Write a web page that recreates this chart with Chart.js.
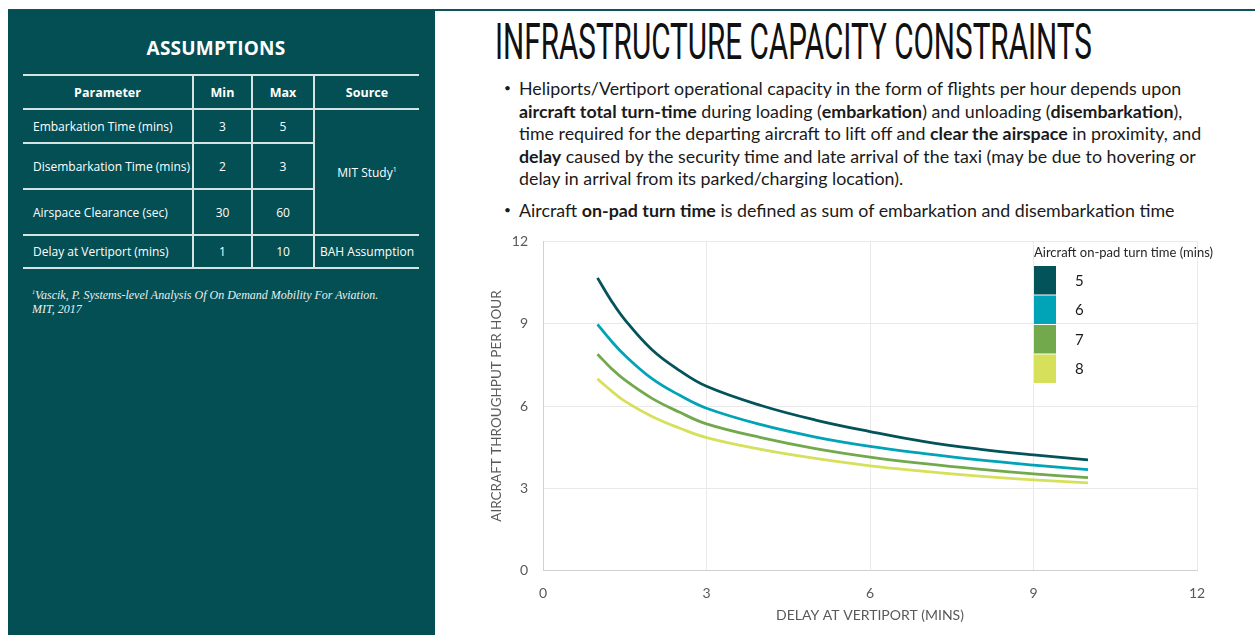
<!DOCTYPE html>
<html>
<head>
<meta charset="utf-8">
<script src="https://cdn.jsdelivr.net/npm/chart.js@4.4.1/dist/chart.umd.min.js"></script>
<style>
  html, body { margin: 0; padding: 0; background: #fff; }
  body { width: 1255px; height: 635px; position: relative; overflow: hidden; font-family: "Open Sans", sans-serif; }
  .topline { position: absolute; left: 8px; top: 9px; width: 1247px; height: 2px; background: #0b565b; }
  .panel { position: absolute; left: 8px; top: 10px; width: 427px; height: 625px; background: #034f54; color: #fff; }
  .panel h2 { position: absolute; left: 0; width: 416px; top: 25px; margin: 0; text-align: center; font-size: 19px; font-weight: 700; letter-spacing: 0.2px; }
  table { position: absolute; left: 15px; top: 64px; border-collapse: collapse; table-layout: fixed; font-size: 12px; }
  td, th { border-top: 2px solid #d6e3e3; border-bottom: 2px solid #d6e3e3; padding: 0; text-align: center; font-weight: 400; }
  th { font-weight: 700; font-size: 12.5px; }
  td + td, th + th, td.src { border-left: 2px solid #d6e3e3; }
  td.p { text-align: left; padding-left: 10px; white-space: nowrap; }
  sup { font-size: 7px; }
  .foot { position: absolute; left: 24px; top: 276px; font-family: "Liberation Serif", serif; font-style: italic; font-size: 12px; line-height: 13.5px; color: #e8f0f0; }
  .foot sup { font-size: 6px; }
  .title { position: absolute; left: 495px; top: 14px; font-family: Roboto, sans-serif; font-weight: 400; font-size: 50px; line-height: 56px; color: #111; white-space: nowrap; transform-origin: 0 0; }
  .bullets { position: absolute; left: 503px; top: 77px; font-family: Lato, sans-serif; font-size: 16px; line-height: 22.5px; color: #1a1a1a; white-space: nowrap; }
  .bullets div { position: relative; padding-left: 16px; }
  .bullets div::before { content: "•"; position: absolute; left: 1px; top: 0; font-size: 12px; }
  .bullets div + div { margin-top: 9.5px; }
  #wrap { position: absolute; left: 480px; top: 218px; width: 775px; height: 417px; }
</style>
</head>
<body>
<div class="topline"></div>
<div class="panel">
  <h2>ASSUMPTIONS</h2>
  <table>
    <colgroup><col style="width:170px"><col style="width:59px"><col style="width:62px"><col style="width:105px"></colgroup>
    <tr style="height:34px"><th>Parameter</th><th>Min</th><th>Max</th><th>Source</th></tr>
    <tr style="height:34px"><td class="p">Embarkation Time (mins)</td><td>3</td><td>5</td><td class="src" rowspan="3">MIT Study<sup>1</sup></td></tr>
    <tr style="height:46px"><td class="p">Disembarkation Time (mins)</td><td>2</td><td>3</td></tr>
    <tr style="height:46px"><td class="p">Airspace Clearance (sec)</td><td>30</td><td>60</td></tr>
    <tr style="height:33px"><td class="p">Delay at Vertiport (mins)</td><td>1</td><td>10</td><td>BAH Assumption</td></tr>
  </table>
  <div class="foot"><sup>1</sup>Vascik, P. Systems-level Analysis Of On Demand Mobility For Aviation.<br>MIT, 2017</div>
</div>

<div class="title" id="title">INFRASTRUCTURE CAPACITY CONSTRAINTS</div>

<div class="bullets" id="bullets">
  <div><span id="l1">Heliports/Vertiport operational capacity in the form of flights per hour depends upon</span><br>
  <b>aircraft total turn-time</b> during loading (<b>embarkation</b>) and unloading (<b>disembarkation</b>),<br>
  time required for the departing aircraft to lift off and <b>clear the airspace</b> in proximity, and<br>
  <b>delay</b> caused by the security time and late arrival of the taxi (may be due to hovering or<br>
  delay in arrival from its parked/charging location).</div>
  <div>Aircraft <b>on-pad turn time</b> is defined as sum of embarkation and disembarkation time</div>
</div>

<div id="wrap"><canvas id="chart"></canvas></div>

<script>
// delay at vertiport (mins) on the x axis
const delayMins = [1, 1.25, 1.5, 2, 2.5, 3, 4, 5, 6, 7, 8, 9, 10];
// on-pad turn time series (mins)
const turnTimes = ['5', '6', '7', '8'];
const tput5 = [10.67, 9.85, 9.15, 8.05, 7.3, 6.72, 6.02, 5.49, 5.07, 4.7, 4.43, 4.22, 4.04];
const tput6 = [8.98, 8.38, 7.85, 7.0, 6.4, 5.92, 5.32, 4.87, 4.53, 4.27, 4.04, 3.85, 3.68];
const tput7 = [7.89, 7.38, 6.95, 6.28, 5.78, 5.35, 4.85, 4.45, 4.14, 3.9, 3.7, 3.53, 3.39];
const tput8 = [6.99, 6.56, 6.18, 5.62, 5.2, 4.85, 4.42, 4.09, 3.82, 3.62, 3.45, 3.31, 3.2];
const axisTicks = [0, 3, 6, 9, 12];

const colors = ['#03535a', '#00a4b6', '#72a94d', '#d6e05b'];
const series = [tput5, tput6, tput7, tput8];

// squeeze the title like the condensed slide font
const t = document.getElementById('title');
t.style.transform = 'scaleX(' + (597 / t.offsetWidth) + ')';
// size the bullet text so the first line spans the same width
const l1 = document.getElementById('l1');
const b = document.getElementById('bullets');
b.style.fontSize = (16 * 663 / l1.offsetWidth) + 'px';

// legend drawn as a block of colour swatches, like the slide
const legendBlock = {
    id: 'legendBlock',
    afterDraw(chart) {
        const ctx = chart.ctx;
        const top = 10;
        ctx.save();
        ctx.fillStyle = '#262626';
        ctx.font = '13px Lato';
        ctx.textBaseline = 'middle';
        ctx.fillText('Aircraft on-pad turn time (mins)', 554, top + 25);
        chart.data.datasets.forEach((ds, i) => {
            const y = top + 38 + i * 29.5;
            ctx.fillStyle = ds.borderColor;
            ctx.fillRect(554, y, 22, 28.5);
            ctx.fillStyle = '#1a1a1a';
            ctx.font = '15px Lato';
            ctx.fillText(ds.label, 595, y + 15);
        });
        ctx.restore();
    }
};

new Chart(document.getElementById('chart'), {
    type: 'line',
    data: {
        datasets: series.map((s, i) => ({
            label: turnTimes[i],
            data: delayMins.map((d, j) => ({ x: d, y: s[j] })),
            borderColor: colors[i],
            backgroundColor: colors[i],
            borderWidth: 2.8,
            pointRadius: 0,
            tension: 0.4,
            fill: false
        }))
    },
    options: {
        responsive: true,
        maintainAspectRatio: false,
        animation: false,
        layout: { padding: { left: 0, right: 58, top: 2, bottom: 0 } },
        plugins: {
            legend: { display: false },
            tooltip: { enabled: false }
        },
        scales: {
            x: {
                type: 'linear',
                min: 0,
                max: 12,
                afterBuildTicks: (scale) => { scale.ticks = axisTicks.map(v => ({ value: v })); },
                afterFit: (scale) => { scale.height = 64.3; },
                grid: { color: '#e9e9e9', drawTicks: false },
                border: { color: '#d0d0d0' },
                ticks: { color: '#595959', font: { family: 'Lato', size: 14 }, padding: 14 },
                title: {
                    display: true,
                    text: 'DELAY AT VERTIPORT (MINS)',
                    color: '#595959',
                    font: { family: 'Lato', size: 14 },
                    padding: { top: 0, bottom: 11 }
                }
            },
            y: {
                min: 0,
                max: 12,
                afterBuildTicks: (scale) => { scale.ticks = axisTicks.map(v => ({ value: v })); },
                afterFit: (scale) => { scale.width = 63; },
                grid: { color: '#e9e9e9', drawTicks: false },
                border: { color: '#d0d0d0' },
                ticks: { color: '#595959', font: { family: 'Lato', size: 14 }, padding: 15 },
                title: {
                    display: true,
                    text: 'AIRCRAFT THROUGHPUT PER HOUR',
                    color: '#595959',
                    font: { family: 'Lato', size: 13.5 },
                    padding: { top: 9, bottom: 0 }
                }
            }
        }
    },
    plugins: [legendBlock]
});
</script>
</body>
</html>
